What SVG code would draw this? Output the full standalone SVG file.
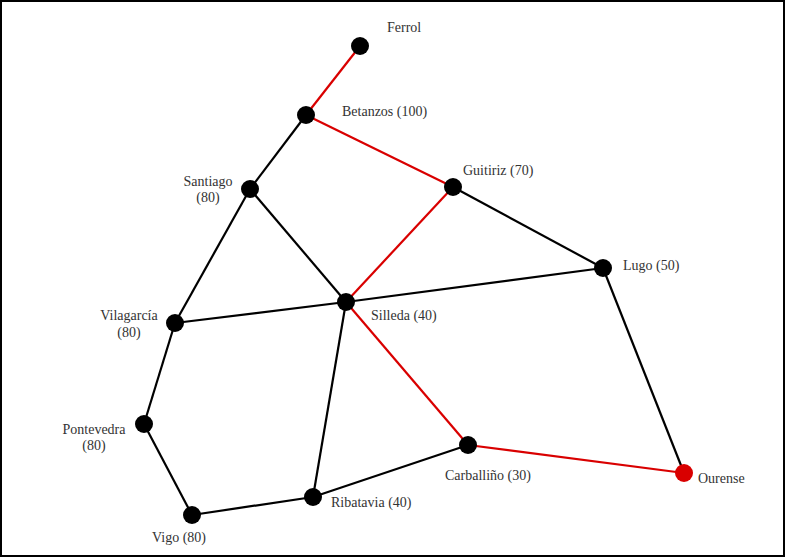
<svg xmlns="http://www.w3.org/2000/svg" width="786" height="558" viewBox="0 0 786 558">
<style>
.e{stroke:#000;stroke-width:2.2;fill:none}
.r{stroke:#d90000;stroke-width:2.2;fill:none}
.n{fill:#000}
.o{fill:#d90000}
text{font-family:"Liberation Serif","Times New Roman",serif;font-size:14px;fill:#333}
.c{text-anchor:middle}
</style>
<rect x="1" y="1" width="783" height="555" fill="#fff" stroke="#000" stroke-width="2"/>
<g id="connectors">
<line class="r" x1="360" y1="46" x2="306" y2="115"/>
<line class="r" x1="306" y1="115" x2="453" y2="187"/>
<line class="r" x1="453" y1="187" x2="346" y2="302"/>
<line class="r" x1="346" y1="302" x2="468" y2="445"/>
<line class="r" x1="468" y1="445" x2="684" y2="473"/>
<line class="e" x1="306" y1="115" x2="250" y2="189"/>
<line class="e" x1="250" y1="189" x2="175" y2="323"/>
<line class="e" x1="250" y1="189" x2="346" y2="302"/>
<line class="e" x1="453" y1="187" x2="603" y2="268"/>
<line class="e" x1="603" y1="268" x2="346" y2="302"/>
<line class="e" x1="603" y1="268" x2="684" y2="473"/>
<line class="e" x1="175" y1="323" x2="346" y2="302"/>
<line class="e" x1="175" y1="323" x2="144" y2="424"/>
<line class="e" x1="144" y1="424" x2="192" y2="515"/>
<line class="e" x1="192" y1="515" x2="313" y2="497"/>
<line class="e" x1="313" y1="497" x2="346" y2="302"/>
<line class="e" x1="313" y1="497" x2="468" y2="445"/>
</g>
<g id="ferrol"><circle class="n" cx="360" cy="46" r="9"/><text x="387" y="32">Ferrol</text></g>
<g id="betanzos"><circle class="n" cx="306" cy="115" r="9"/><text x="342" y="116">Betanzos (100)</text></g>
<g id="santiago"><circle class="n" cx="250" cy="189" r="9"/><text class="c" x="208" y="186">Santiago</text><text class="c" x="208" y="202">(80)</text></g>
<g id="guitiriz"><circle class="n" cx="453" cy="187" r="9"/><text x="463" y="175">Guitiriz (70)</text></g>
<g id="lugo"><circle class="n" cx="603" cy="268" r="9"/><text x="623" y="270">Lugo (50)</text></g>
<g id="silleda"><circle class="n" cx="346" cy="302" r="9"/><text x="371" y="320">Silleda (40)</text></g>
<g id="vilagarcia"><circle class="n" cx="175" cy="323" r="9"/><text class="c" x="129" y="320">Vilagarcía</text><text class="c" x="129" y="337">(80)</text></g>
<g id="pontevedra"><circle class="n" cx="144" cy="424" r="9"/><text class="c" x="94" y="434">Pontevedra</text><text class="c" x="94" y="450">(80)</text></g>
<g id="vigo"><circle class="n" cx="192" cy="515" r="9"/><text x="152" y="542">Vigo (80)</text></g>
<g id="ribatavia"><circle class="n" cx="313" cy="497" r="9"/><text x="331" y="507">Ribatavia (40)</text></g>
<g id="carballino"><circle class="n" cx="468" cy="445" r="9"/><text x="445" y="480">Carballiño (30)</text></g>
<g id="ourense"><circle class="o" cx="684" cy="473" r="9"/><text x="698" y="483">Ourense</text></g>
</svg>
